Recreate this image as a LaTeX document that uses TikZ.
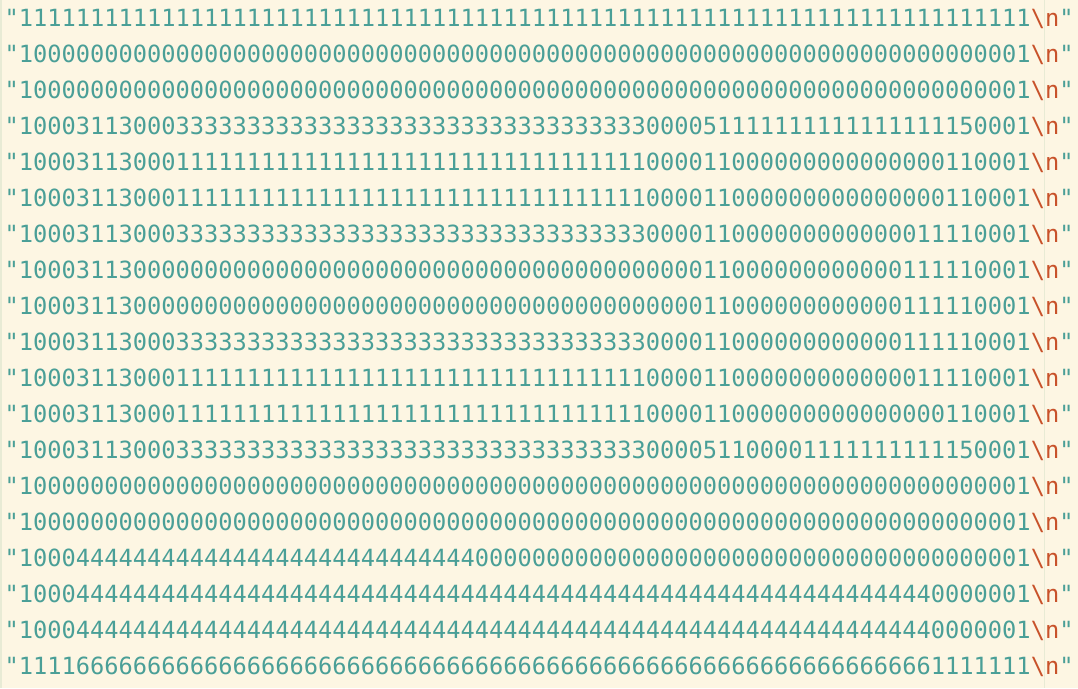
\documentclass[tikz,border=0pt]{standalone}
\usepackage{fontspec}
\setmonofont{DejaVu Sans Mono}
\definecolor{bgc}{HTML}{FDF6E3}
\definecolor{digc}{HTML}{4A9F97}
\definecolor{escc}{HTML}{C8522A}
\definecolor{rulec}{HTML}{E8EBD5}
\ExplSyntaxOn
\NewDocumentCommand\myrep{mm}{\prg_replicate:nn{#1}{#2}}
\ExplSyntaxOff
\newcommand\strline[1]{"#1\textcolor{escc}{\textbackslash n}"}
\tikzset{
  codeline/.style={anchor=base west, inner sep=0pt, outer sep=0pt, text=digc,
    font=\ttfamily\fontsize{23.67}{28}\selectfont}
}
\begin{document}
\begin{tikzpicture}[x=1pt,y=-1pt]
\fill[bgc] (0,0) rectangle (1078,688);
\useasboundingbox (0,0) rectangle (1078,688);
\fill[rulec] (0,0) rectangle (1.5,688);
\draw[rulec, line width=1pt] (1044.5,0) -- (1044.5,688);
\node[codeline] (r1)  at (4.75, 26.6) {\strline{\myrep{71}{1}}};
\node[codeline] (r2)  at (4.75, 62.6) {\strline{1\myrep{69}{0}1}};
\node[codeline] (r3)  at (4.75, 98.6) {\strline{1\myrep{69}{0}1}};
\node[codeline] (r4)  at (4.75,134.6) {\strline{10003113000\myrep{33}{3}00005\myrep{17}{1}50001}};
\node[codeline] (r5)  at (4.75,170.6) {\strline{10003113000\myrep{33}{1}000011\myrep{15}{0}110001}};
\node[codeline] (r6)  at (4.75,206.6) {\strline{10003113000\myrep{33}{1}000011\myrep{15}{0}110001}};
\node[codeline] (r7)  at (4.75,242.6) {\strline{10003113000\myrep{33}{3}000011\myrep{13}{0}11110001}};
\node[codeline] (r8)  at (4.75,278.6) {\strline{10003113\myrep{40}{0}11\myrep{12}{0}111110001}};
\node[codeline] (r9)  at (4.75,314.6) {\strline{10003113\myrep{40}{0}11\myrep{12}{0}111110001}};
\node[codeline] (r10) at (4.75,350.6) {\strline{10003113000\myrep{33}{3}000011\myrep{12}{0}111110001}};
\node[codeline] (r11) at (4.75,386.6) {\strline{10003113000\myrep{33}{1}000011\myrep{13}{0}11110001}};
\node[codeline] (r12) at (4.75,422.6) {\strline{10003113000\myrep{33}{1}000011\myrep{15}{0}110001}};
\node[codeline] (r13) at (4.75,458.6) {\strline{10003113000\myrep{33}{3}00005110000\myrep{11}{1}50001}};
\node[codeline] (r14) at (4.75,494.6) {\strline{1\myrep{69}{0}1}};
\node[codeline] (r15) at (4.75,530.6) {\strline{1\myrep{69}{0}1}};
\node[codeline] (r16) at (4.75,566.6) {\strline{1000\myrep{28}{4}\myrep{38}{0}1}};
\node[codeline] (r17) at (4.75,602.6) {\strline{1000\myrep{60}{4}0000001}};
\node[codeline] (r18) at (4.75,638.6) {\strline{1000\myrep{60}{4}0000001}};
\node[codeline] (r19) at (4.75,674.6) {\strline{1111\myrep{60}{6}1111111}};
\end{tikzpicture}
\end{document}
